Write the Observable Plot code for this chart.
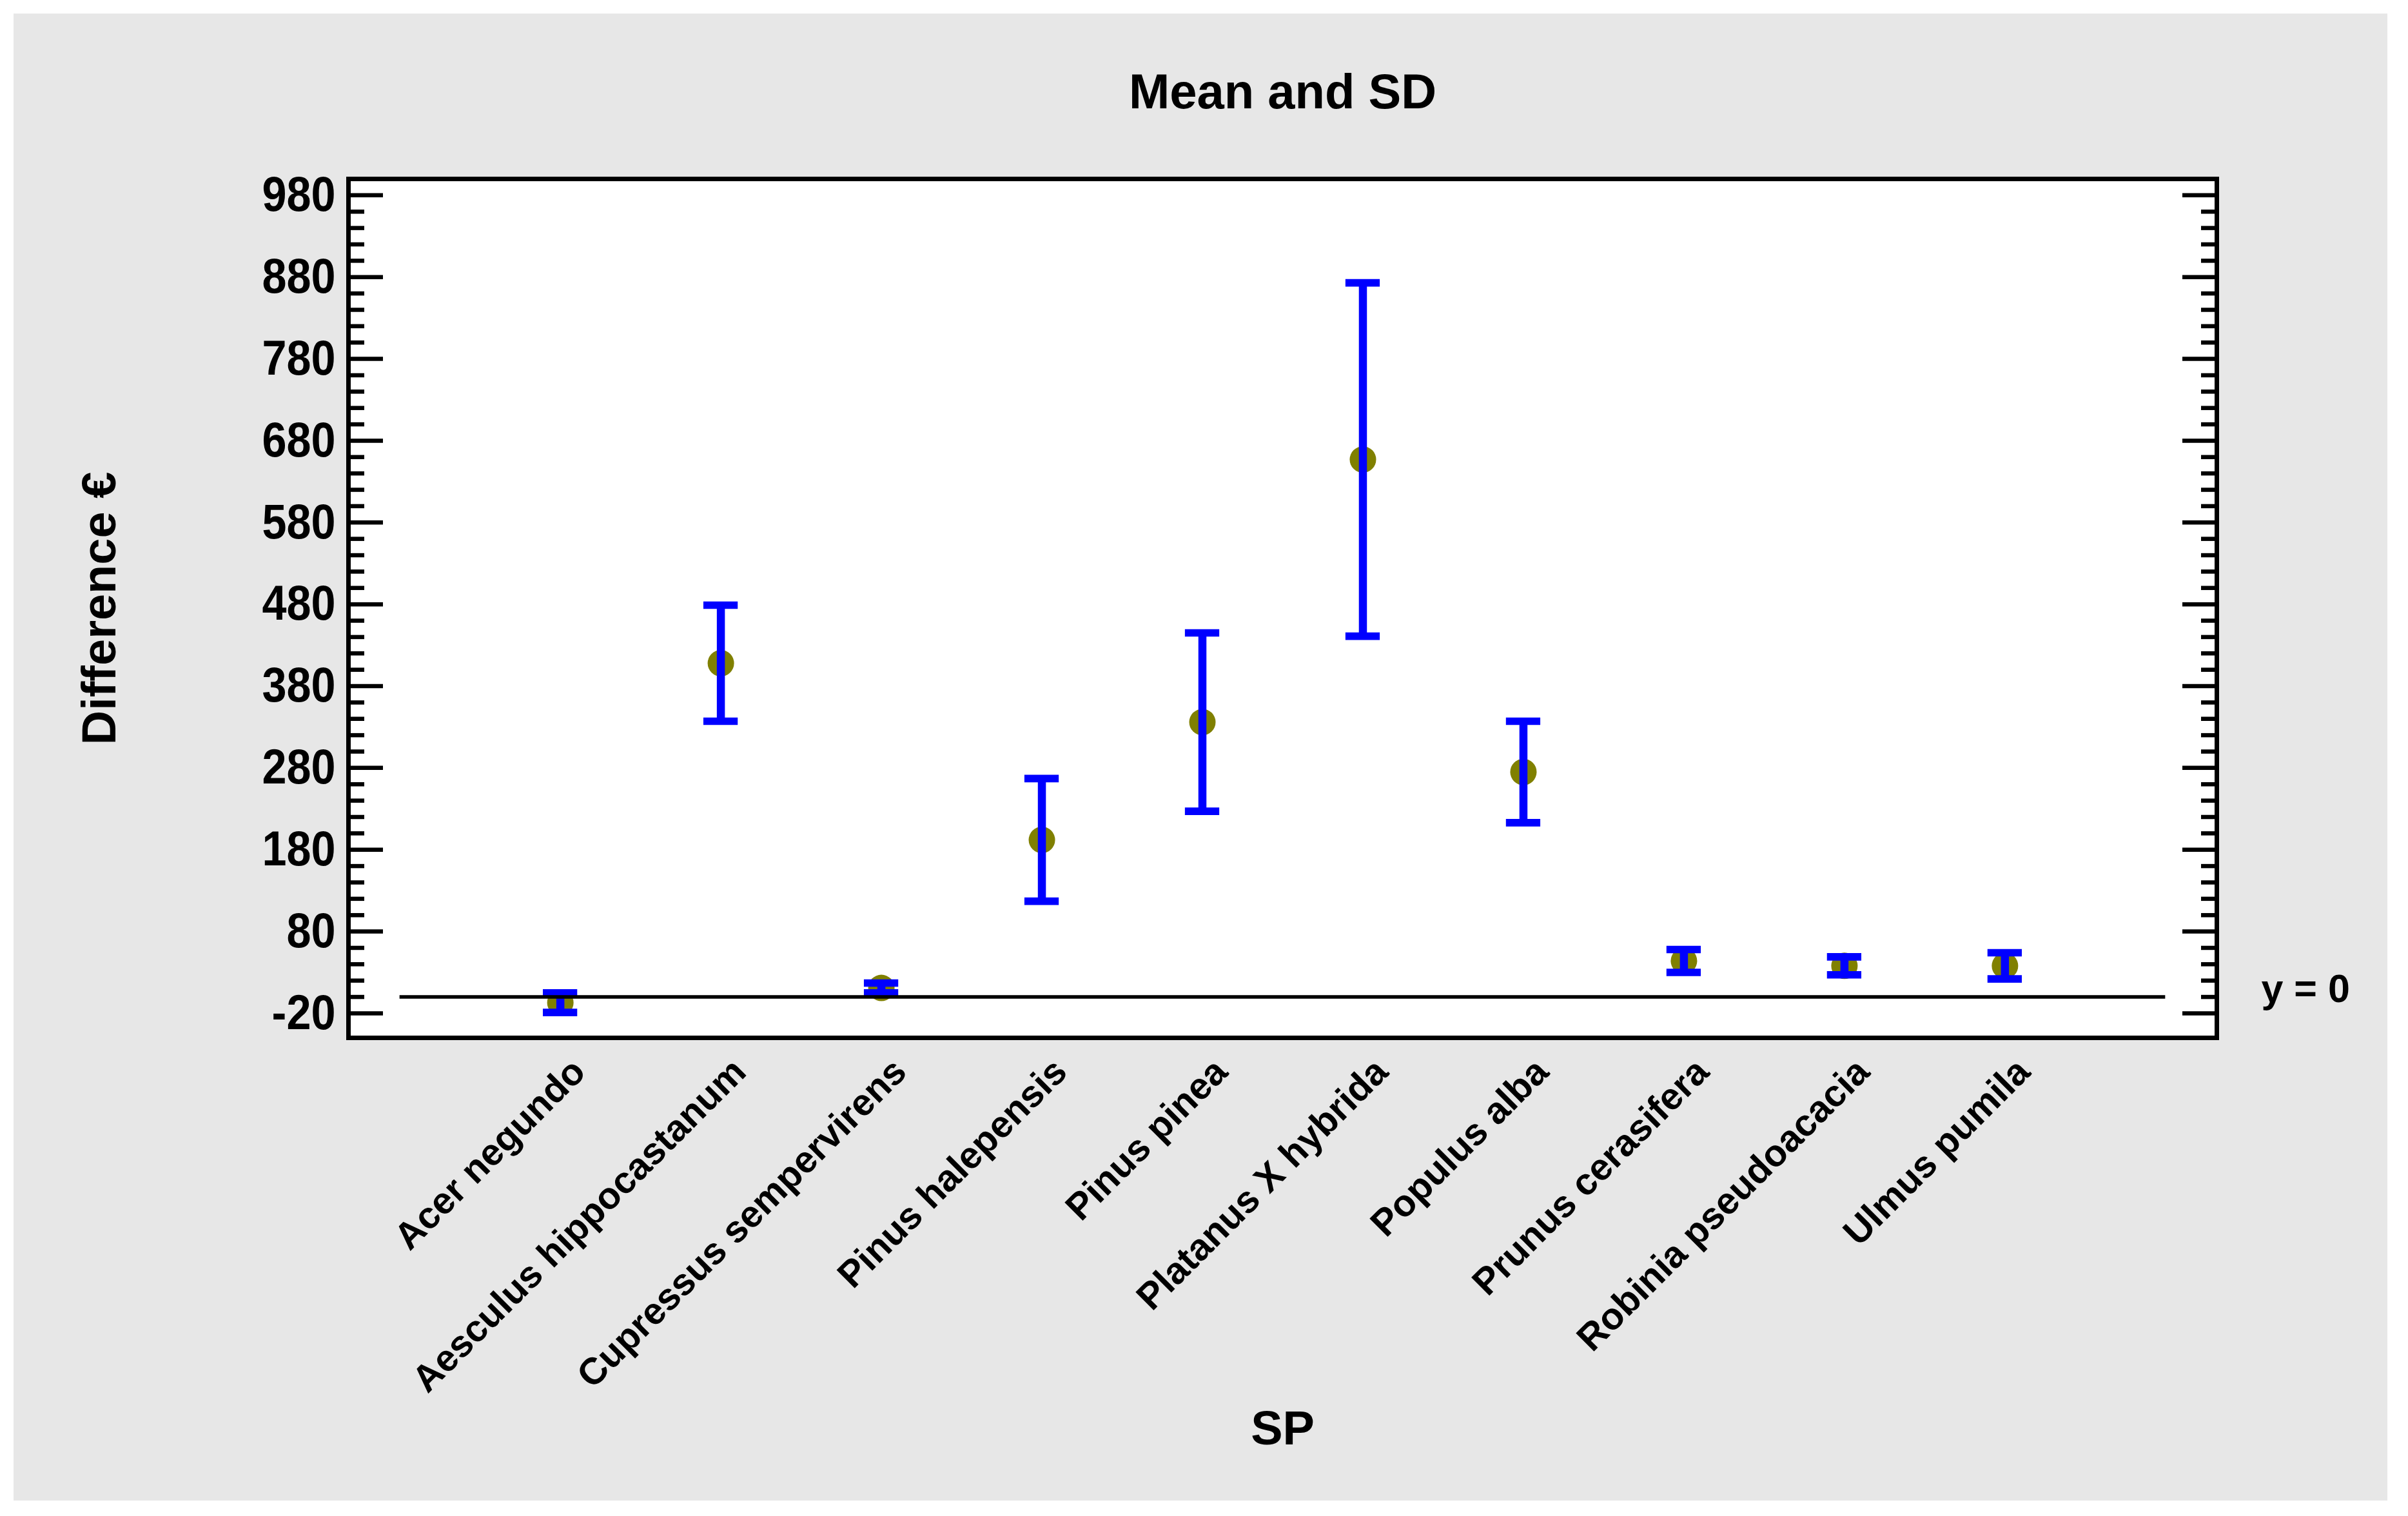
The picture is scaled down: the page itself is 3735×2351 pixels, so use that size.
<!DOCTYPE html>
<html>
<head>
<meta charset="utf-8">
<script src="https://cdn.jsdelivr.net/npm/d3@7"></script>
<script src="https://cdn.jsdelivr.net/npm/@observablehq/plot@0.6"></script>
<style>
html, body { margin: 0; padding: 0; background: #ffffff; }
#chart { position: absolute; left: 21px; top: 21px; }
</style>
</head>
<body>
<div id="chart"></div>
<script>
// ---- data ----
const categories = [
  "Acer negundo", "Aesculus hippocastanum", "Cupressus sempervirens",
  "Pinus halepensis", "Pinus pinea", "Platanus X hybrida", "Populus alba",
  "Prunus cerasifera", "Robinia pseudoacacia", "Ulmus pumila"
];
const means = [-7, 408, 11, 192, 336, 657, 275, 44, 38, 38];
const sds   = [12, 71, 6, 75, 109, 216, 62, 14, 11, 16];

const majorTicks = [-20, 80, 180, 280, 380, 480, 580, 680, 780, 880, 980];
const minorTicks = d3.range(-20, 981, 20).filter(v => !majorTicks.includes(v));

const titleText = "Mean and SD";
const yTitle = "Difference €";
const xTitle = "SP";
const refLabel = "y = 0";

// ---- table built from the arrays ----
const rows = categories.map((name, i) => ({name, i, mean: means[i], sd: sds[i]}));

const font = "'Liberation Sans', Arial, Helvetica, sans-serif";
const capHalf = 0.107;   // half cap width in category units
const n = categories.length;

const chart = Plot.plot({
  width: 3682,
  height: 2306,
  marginLeft: 519,
  marginRight: 265,
  marginTop: 256,
  marginBottom: 718,
  style: {background: "#e7e7e7", fontFamily: font, overflow: "visible", maxWidth: "none"},
  x: {domain: [-1.32, n - 1 + 1.32], axis: null, label: null},
  y: {domain: [-50, 1000], axis: null, label: null},
  marks: [
    Plot.frame({fill: "white"}),
    // inward ticks, left and right
    Plot.axisY(majorTicks, {anchor: "left", tickSize: -54, strokeWidth: 6.5, stroke: "black", fill: "none", label: null}),
    Plot.axisY(minorTicks, {anchor: "left", tickSize: -25, strokeWidth: 6.5, stroke: "black", fill: "none", label: null}),
    Plot.axisY(majorTicks, {anchor: "right", tickSize: -54, strokeWidth: 6.5, stroke: "black", fill: "none", label: null}),
    Plot.axisY(minorTicks, {anchor: "right", tickSize: -25, strokeWidth: 6.5, stroke: "black", fill: "none", label: null}),
    // tick labels
    Plot.axisY(majorTicks, {anchor: "left", tickSize: 0, tickPadding: 20, tickFormat: d => String(d),
      fontSize: 76, fontWeight: "bold", fill: "black", label: null}),
    // means
    Plot.dot(rows, {x: "i", y: "mean", r: 20.5, fill: "#808000", stroke: null}),
    // SD bars
    Plot.ruleX(rows, {x: "i", y1: d => d.mean - d.sd, y2: d => d.mean + d.sd, stroke: "#0000ff", strokeWidth: 12.5}),
    Plot.ruleY(rows, {y: d => d.mean + d.sd, x1: d => d.i - capHalf, x2: d => d.i + capHalf, stroke: "#0000ff", strokeWidth: 11.6}),
    Plot.ruleY(rows, {y: d => d.mean - d.sd, x1: d => d.i - capHalf, x2: d => d.i + capHalf, stroke: "#0000ff", strokeWidth: 11.6}),
    // reference line y = 0
    Plot.ruleY([0], {x1: -1, x2: n, stroke: "black", strokeWidth: 5.5}),
    Plot.text([0], {y: d => d, frameAnchor: "right", dx: 69, dy: -12, textAnchor: "start", lineAnchor: "middle",
      text: () => refLabel, fontSize: 61, fontWeight: "bold", fill: "black"}),
    // category labels
    Plot.text(rows, {x: "i", text: "name", frameAnchor: "bottom", rotate: -45, textAnchor: "end", lineAnchor: "bottom",
      dx: 42, dy: 56, fontSize: 58, fontWeight: "bold", fill: "black"}),
    // titles
    Plot.text([titleText], {text: d => d, frameAnchor: "top", dy: -110, lineAnchor: "bottom", fontSize: 76, fontWeight: "bold", fill: "black"}),
    Plot.text([xTitle], {text: d => d, frameAnchor: "bottom", dy: 630, lineAnchor: "bottom", fontSize: 74, fontWeight: "bold", fill: "black"}),
    Plot.text([yTitle], {text: d => d, frameAnchor: "left", dx: -362, rotate: -90, textAnchor: "middle", lineAnchor: "bottom", fontSize: 74, fontWeight: "bold", fill: "black"}),
    Plot.frame({stroke: "black", strokeWidth: 7})
  ]
});
document.getElementById("chart").appendChild(chart);

// the reference tick labels are slightly condensed: squeeze them horizontally
chart.querySelectorAll('g[aria-label="y-axis tick label"] text').forEach(t => {
  const w = t.getComputedTextLength();
  if (w > 0) {
    t.setAttribute("lengthAdjust", "spacingAndGlyphs");
    t.setAttribute("textLength", (w * 0.9).toFixed(1));
  }
});
</script>
</body>
</html>
